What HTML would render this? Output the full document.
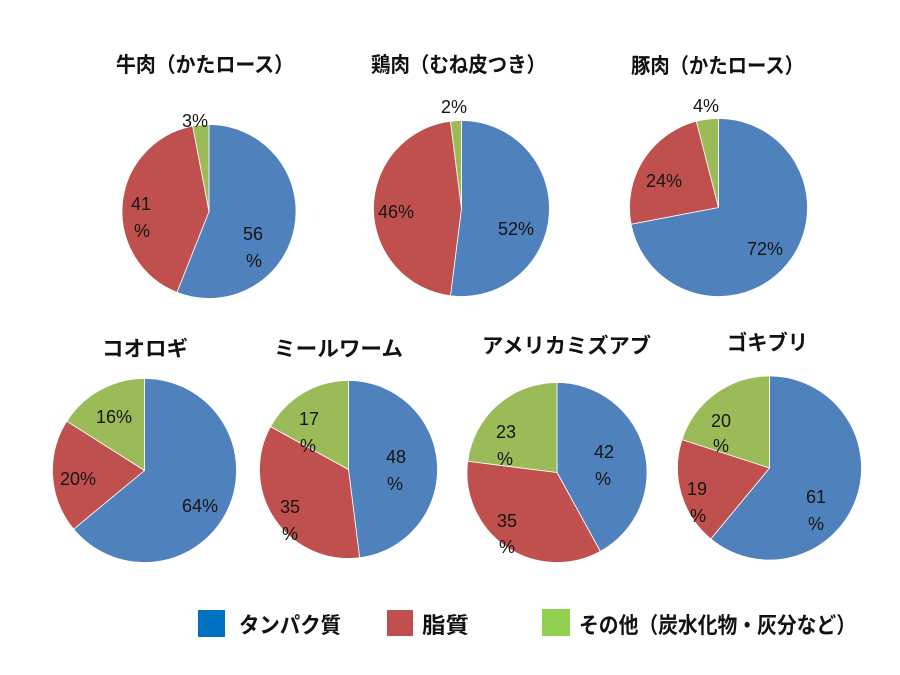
<!DOCTYPE html>
<html>
<head>
<meta charset="utf-8">
<style>
html,body{margin:0;padding:0;background:#fff;}
svg{display:block;}
.t{font-family:"Liberation Sans","Noto Sans CJK JP",sans-serif;font-weight:bold;font-size:21px;fill:#111;}
.l{font-family:"Liberation Sans","Noto Sans CJK JP",sans-serif;font-size:18px;fill:#151515;text-anchor:middle;}
.g{font-family:"Liberation Sans","Noto Sans CJK JP",sans-serif;font-weight:bold;font-size:22px;fill:#111;}
.s{stroke:#fff;stroke-width:0.8;stroke-linejoin:round;}
</style>
</head>
<body>
<svg width="900" height="675" viewBox="0 0 900 675" xmlns="http://www.w3.org/2000/svg">
<rect width="900" height="675" fill="#fff"/>

<!-- Titles -->
<text class="t" x="116" y="72" textLength="178" lengthAdjust="spacingAndGlyphs">牛肉（かたロース）</text>
<text class="t" x="371" y="72" textLength="175" lengthAdjust="spacingAndGlyphs">鶏肉（むね皮つき）</text>
<text class="t" x="631" y="73" textLength="173" lengthAdjust="spacingAndGlyphs">豚肉（かたロース）</text>
<text class="t" x="102" y="356" textLength="86" lengthAdjust="spacingAndGlyphs">コオロギ</text>
<text class="t" x="274" y="356" textLength="129" lengthAdjust="spacingAndGlyphs">ミールワーム</text>
<text class="t" x="482" y="353" textLength="169" lengthAdjust="spacingAndGlyphs">アメリカミズアブ</text>
<text class="t" x="727" y="350" textLength="81" lengthAdjust="spacingAndGlyphs">ゴキブリ</text>

<!-- Beef -->
<g class="s">
<path fill="#4F81BD" d="M209,211.5 L209,124.5 A87,87 0 1 1 176.97,292.39 Z"/>
<path fill="#C0504D" d="M209,211.5 L176.97,292.39 A87,87 0 0 1 192.70,126.04 Z"/>
<path fill="#9BBB59" d="M209,211.5 L192.70,126.04 A87,87 0 0 1 209,124.5 Z"/>
</g>
<text class="l" x="253" y="240">56</text><text class="l" x="254" y="267">%</text>
<text class="l" x="141" y="210">41</text><text class="l" x="142" y="237">%</text>
<text class="l" x="195" y="127">3%</text>

<!-- Chicken -->
<g class="s">
<path fill="#4F81BD" d="M461.5,208.5 L461.5,120.5 A88,88 0 1 1 450.47,295.81 Z"/>
<path fill="#C0504D" d="M461.5,208.5 L450.47,295.81 A88,88 0 0 1 450.47,121.19 Z"/>
<path fill="#9BBB59" d="M461.5,208.5 L450.47,121.19 A88,88 0 0 1 461.5,120.5 Z"/>
</g>
<text class="l" x="516" y="235">52%</text>
<text class="l" x="396" y="218">46%</text>
<text class="l" x="454" y="113">2%</text>

<!-- Pork -->
<g class="s">
<path fill="#4F81BD" d="M718.5,207.5 L718.5,118.5 A89,89 0 1 1 631.08,224.18 Z"/>
<path fill="#C0504D" d="M718.5,207.5 L631.08,224.18 A89,89 0 0 1 696.37,121.29 Z"/>
<path fill="#9BBB59" d="M718.5,207.5 L696.37,121.29 A89,89 0 0 1 718.5,118.5 Z"/>
</g>
<text class="l" x="765" y="255">72%</text>
<text class="l" x="664" y="187">24%</text>
<text class="l" x="706" y="112">4%</text>

<!-- Cricket -->
<g class="s">
<path fill="#4F81BD" d="M144.5,470.5 L144.5,378.5 A92,92 0 1 1 73.61,529.14 Z"/>
<path fill="#C0504D" d="M144.5,470.5 L73.61,529.14 A92,92 0 0 1 66.82,421.21 Z"/>
<path fill="#9BBB59" d="M144.5,470.5 L66.82,421.21 A92,92 0 0 1 144.5,378.5 Z"/>
</g>
<text class="l" x="200" y="512">64%</text>
<text class="l" x="78" y="485">20%</text>
<text class="l" x="114" y="423">16%</text>

<!-- Mealworm -->
<g class="s">
<path fill="#4F81BD" d="M348.5,469.5 L348.5,380.5 A89,89 0 0 1 359.65,557.80 Z"/>
<path fill="#C0504D" d="M348.5,469.5 L359.65,557.80 A89,89 0 0 1 270.51,426.62 Z"/>
<path fill="#9BBB59" d="M348.5,469.5 L270.51,426.62 A89,89 0 0 1 348.5,380.5 Z"/>
</g>
<text class="l" x="396" y="463">48</text><text class="l" x="395" y="490">%</text>
<text class="l" x="290" y="513">35</text><text class="l" x="290" y="540">%</text>
<text class="l" x="309" y="425">17</text><text class="l" x="308" y="452">%</text>

<!-- Soldier fly -->
<g class="s">
<path fill="#4F81BD" d="M557,472.5 L557,382.5 A90,90 0 0 1 600.36,551.37 Z"/>
<path fill="#C0504D" d="M557,472.5 L600.36,551.37 A90,90 0 0 1 467.71,461.22 Z"/>
<path fill="#9BBB59" d="M557,472.5 L467.71,461.22 A90,90 0 0 1 557,382.5 Z"/>
</g>
<text class="l" x="604" y="458">42</text><text class="l" x="603" y="485">%</text>
<text class="l" x="507" y="527">35</text><text class="l" x="507" y="553">%</text>
<text class="l" x="506" y="438">23</text><text class="l" x="505" y="465">%</text>

<!-- Cockroach -->
<g class="s">
<path fill="#4F81BD" d="M769.5,468 L769.5,376 A92,92 0 1 1 710.86,538.89 Z"/>
<path fill="#C0504D" d="M769.5,468 L710.86,538.89 A92,92 0 0 1 682.00,439.57 Z"/>
<path fill="#9BBB59" d="M769.5,468 L682.00,439.57 A92,92 0 0 1 769.5,376 Z"/>
</g>
<text class="l" x="816" y="503">61</text><text class="l" x="816" y="530">%</text>
<text class="l" x="697" y="495">19</text><text class="l" x="698" y="522">%</text>
<text class="l" x="721" y="427">20</text><text class="l" x="721" y="452">%</text>

<!-- Legend -->
<rect x="198" y="610" width="27" height="27" fill="#0070C0"/>
<text class="g" x="239" y="633" textLength="102" lengthAdjust="spacingAndGlyphs">タンパク質</text>
<rect x="387" y="610" width="26" height="26" fill="#C0504D"/>
<text class="g" x="422" y="633" textLength="47" lengthAdjust="spacingAndGlyphs">脂質</text>
<rect x="542" y="609" width="28" height="27" fill="#92D050"/>
<text class="g" x="579" y="633" textLength="277" lengthAdjust="spacingAndGlyphs">その他（炭水化物・灰分など）</text>
</svg>
</body>
</html>
